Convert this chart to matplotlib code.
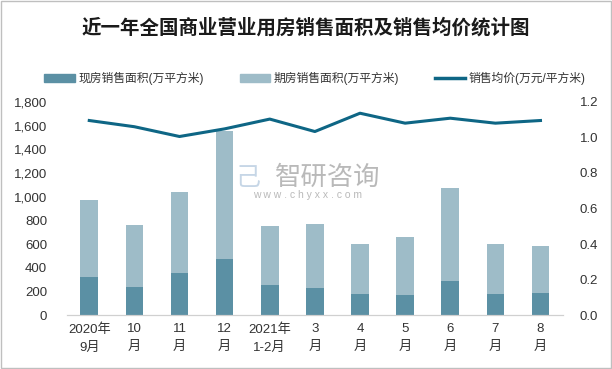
import matplotlib
matplotlib.use("Agg")
import matplotlib.pyplot as plt
import numpy as np
from matplotlib.patches import Rectangle
from matplotlib.lines import Line2D

plt.rcParams["font.family"] = ["Liberation Sans", "Noto Sans CJK SC", "DejaVu Sans"]

months = ["2020年\n9月", "10\n月", "11\n月", "12\n月", "2021年\n1-2月", "3\n月",
          "4\n月", "5\n月", "6\n月", "7\n月", "8\n月"]
total_area = [975, 760, 1038, 1556, 751, 768, 599, 658, 1072, 599, 582]
spot_area = [318, 236, 354, 473, 253, 228, 177, 169, 287, 177, 186]
avg_price = [1.095, 1.060, 1.005, 1.048, 1.103, 1.033, 1.136, 1.080, 1.108, 1.080, 1.095]

future_area = [t - s for t, s in zip(total_area, spot_area)]

c_spot = "#5B90A4"
c_future = "#9EBCC8"
c_line = "#0E6685"
c_text = "#333333"

fig = plt.figure(figsize=(6.12, 3.69), dpi=100)
ax = fig.add_axes([0.109, 0.146, 0.811, 0.578])
ax2 = ax.twinx()

x = np.arange(len(months))
ax.bar(x, spot_area, width=0.39, color=c_spot, zorder=2)
ax.bar(x, future_area, width=0.39, bottom=spot_area, color=c_future, zorder=2)
ax2.plot(x, avg_price, color=c_line, lw=2.2, solid_joinstyle="round")

ax.set_xlim(-0.5, len(months) - 0.5)
ax.set_ylim(0, 1800)
ax.set_yticks(range(0, 1801, 200))
ax.set_yticklabels([f"{v:,}" for v in range(0, 1801, 200)])
ax2.set_ylim(0, 1.2)
ax2.set_yticks(np.arange(0, 1.21, 0.2))
ax2.set_yticklabels([f"{v:.1f}" for v in np.arange(0, 1.21, 0.2)])

ax.set_xticks(x)
ax.set_xticklabels(months, linespacing=1.6)

for a in (ax, ax2):
    for s in ("top", "left", "right"):
        a.spines[s].set_visible(False)
    a.spines["bottom"].set_color("#D0D0D0")
    a.tick_params(length=0, labelsize=9.5, colors=c_text)
ax.tick_params(axis="y", pad=14)
ax.tick_params(axis="x", pad=6)
ax2.tick_params(axis="y", pad=12)

fig.text(0.5, 0.925, "近一年全国商业营业用房销售面积及销售均价统计图",
         ha="center", va="center", fontsize=14, fontweight="bold",
         family=["Noto Sans CJK SC"], color="#1A1A1A")

handles = [
    Rectangle((0, 0), 1, 1, color=c_spot),
    Rectangle((0, 0), 1, 1, color=c_future),
    Line2D([0], [0], color=c_line, lw=2.5),
]
labels = ["现房销售面积(万平方米)", "期房销售面积(万平方米)", "销售均价(万元/平方米)"]
fig.legend(handles, labels, loc="center", bbox_to_anchor=(0.515, 0.787), ncol=3,
           frameon=False, fontsize=8.5, handlelength=2.6, handleheight=0.6,
           handletextpad=0.3, columnspacing=3.0, labelcolor=c_text)

# watermark
fig.text(0.535, 0.518, "智研咨询", ha="center", va="center", fontsize=19,
         family=["Noto Sans CJK SC"], color="#A8A8A8", alpha=0.8)
fig.text(0.502, 0.471, "w w w . c h y x x . c o m", ha="center", va="center",
         fontsize=7.5, color="#A8A8A8", alpha=0.8)
fig.text(0.405, 0.518, "己", ha="center", va="center", fontsize=18,
         family=["Noto Sans CJK SC"], color="#B8CCE0", alpha=0.8)

fig.patches.append(Rectangle((0.002, 0.003), 0.996, 0.994, transform=fig.transFigure,
                             fill=False, edgecolor="#BFBFBF", lw=1))

fig.savefig("out.png", dpi=100)
